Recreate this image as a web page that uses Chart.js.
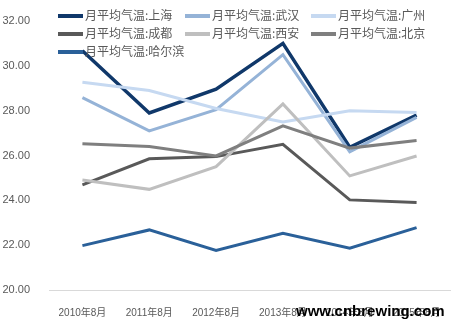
<!DOCTYPE html>
<html>
<head>
<meta charset="utf-8">
<script src="https://cdn.jsdelivr.net/npm/chart.js@4/dist/chart.umd.min.js"></script>
<style>
  body { margin: 0; background: #fff; }
  #wrap { position: relative; width: 461px; height: 330px; }
  #legend { position: absolute; left: 0; top: 0; width: 461px; height: 70px; pointer-events: none; }
  .item { position: absolute; height: 16px; font: 12px "Noto Sans CJK SC", "Liberation Sans", sans-serif; color: #595959; white-space: nowrap; line-height: 16px; }
  .item i { display: inline-block; width: 25px; height: 4px; vertical-align: middle; margin-right: 2px; margin-top: -2px; }
  #mark { position: absolute; left: 296px; top: 302px; font: bold 15px "Liberation Sans", Arial, sans-serif; color: #000; }
</style>
</head>
<body>
<div id="wrap">
  <canvas id="chart" width="461" height="330"></canvas>
  <div id="legend"></div>
  <div id="mark">www.cnbrewing.com</div>
</div>
<script>
const categories = ['2010年8月', '2011年8月', '2012年8月', '2013年8月', '2014年8月', '2015年8月'];
const seriesNames = ['月平均气温:上海', '月平均气温:武汉', '月平均气温:广州', '月平均气温:成都', '月平均气温:西安', '月平均气温:北京', '月平均气温:哈尔滨'];
const shanghai = [30.67, 27.9, 28.96, 31.0, 26.37, 27.8];
const wuhan = [28.58, 27.1, 28.04, 30.5, 26.17, 27.7];
const guangzhou = [29.27, 28.9, 28.1, 27.5, 28.0, 27.92];
const chengdu = [24.69, 25.85, 25.95, 26.5, 24.02, 23.9];
const xian = [24.91, 24.49, 25.5, 28.3, 25.09, 25.98];
const beijing = [26.52, 26.4, 25.98, 27.32, 26.33, 26.67];
const harbin = [21.98, 22.68, 21.76, 22.53, 21.86, 22.78];
const colors = ['#10386a', '#95b3d7', '#c6d9f1', '#595959', '#bfbfbf', '#7f7f7f', '#2a6099'];

const values = [shanghai, wuhan, guangzhou, chengdu, xian, beijing, harbin];
// draw order: back to front so Shanghai sits on top
const order = [6, 5, 4, 3, 2, 1, 0];

const datasets = order.map(i => ({
    label: seriesNames[i],
    data: values[i],
    borderColor: colors[i],
    backgroundColor: colors[i],
    borderWidth: i === 0 ? 3.5 : 3,
    pointRadius: 0,
    tension: 0,
    fill: false
}));

new Chart(document.getElementById('chart').getContext('2d'), {
    type: 'line',
    data: { labels: categories, datasets: datasets },
    options: {
        responsive: false,
        animation: false,
        layout: { padding: { top: 21, right: 11, left: 0, bottom: 0 } },
        plugins: { legend: { display: false }, tooltip: { enabled: false } },
        scales: {
            x: {
                offset: true,
                grid: { display: false, drawTicks: false },
                border: { display: true, color: '#d9d9d9', width: 1 },
                ticks: {
                    color: '#595959',
                    font: { family: '"Liberation Sans", "Noto Sans CJK SC"', size: 10 },
                    padding: 17,
                    maxRotation: 0
                },
                afterFit: function(s) { s.height = 40; }
            },
            y: {
                min: 20,
                max: 32,
                grid: { display: false },
                border: { display: false },
                ticks: {
                    stepSize: 2,
                    color: '#595959',
                    font: { family: '"Liberation Sans", sans-serif', size: 11 },
                    padding: 11,
                    callback: function(v) { return v.toFixed(2); }
                },
                afterFit: function(s) { s.width = 49; }
            }
        }
    }
});

// legend: 3 columns, drawn over the plot like the original
const legendPos = [[58, 7], [185, 7], [311, 7], [58, 25], [185, 25], [311, 25], [58, 43]];
const legend = document.getElementById('legend');
seriesNames.forEach(function(name, i) {
    const d = document.createElement('div');
    d.className = 'item';
    d.style.left = legendPos[i][0] + 'px';
    d.style.top = legendPos[i][1] + 'px';
    d.innerHTML = '<i style="background:' + colors[i] + '"></i>' + name;
    legend.appendChild(d);
});
</script>
</body>
</html>
